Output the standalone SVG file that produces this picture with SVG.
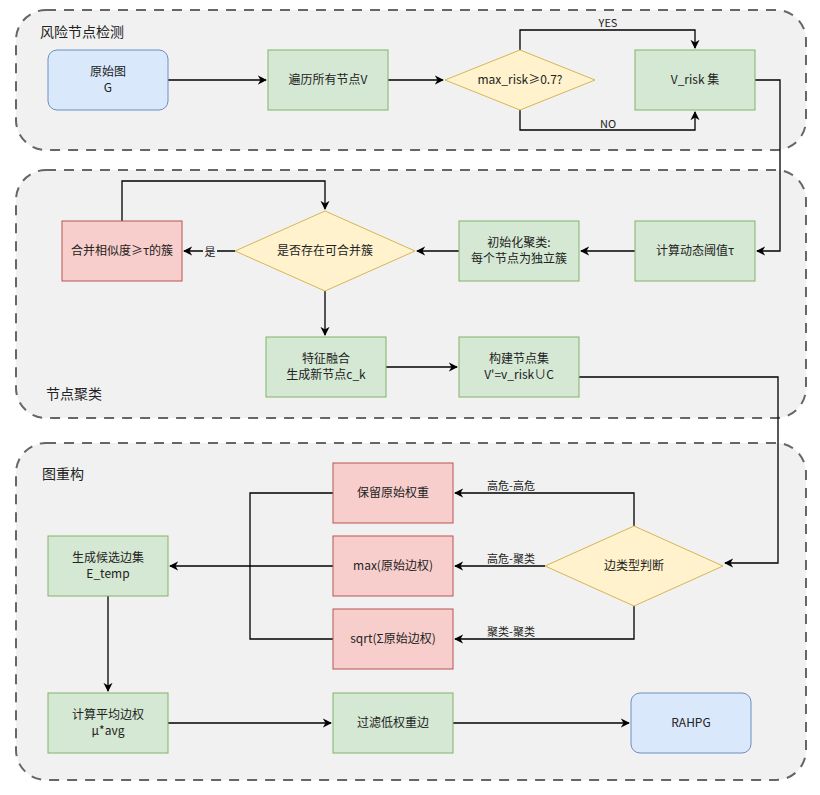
<svg xmlns="http://www.w3.org/2000/svg" width="820" height="795" viewBox="0 0 820 795">
<defs>
<marker id="a" viewBox="0 0 10 10" refX="9" refY="5" markerWidth="7" markerHeight="7" orient="auto"><path d="M0,0 L10,5 L0,10 L3,5 z" fill="#000"/></marker>
<style>
text{font-family:"Noto Sans CJK SC","Liberation Sans",sans-serif;font-size:12px;fill:#222;text-anchor:middle}
.c{fill:#f1f1f1;stroke:#666;stroke-width:2;stroke-dasharray:10 8}
.t{font-size:14px;text-anchor:start}
.g{fill:#d5e8d4;stroke:#82b366}
.b{fill:#dae8fc;stroke:#6c8ebf}
.r{fill:#f8cecc;stroke:#b85450}
.y{fill:#fff2cc;stroke:#d6b656}
.l{fill:none;stroke:#000;stroke-width:1.3}
.s{font-size:11px}
</style>
</defs>
<rect class="c" x="16" y="10" width="790" height="140" rx="30"/>
<rect class="c" x="16" y="170" width="790" height="248" rx="30"/>
<rect class="c" x="16" y="443" width="790" height="337" rx="30"/>
<text class="t" x="40" y="37">风险节点检测</text>
<text class="t" x="46" y="399">节点聚类</text>
<text class="t" x="42" y="479">图重构</text>
<g id="connectors">
<path class="l" d="M168,80 H266" marker-end="url(#a)"/>
<path class="l" d="M388,80 H443" marker-end="url(#a)"/>
<path class="l" d="M520,50 V30 H695 V48" marker-end="url(#a)"/>
<path class="l" d="M520,110 V130 H695 V112" marker-end="url(#a)"/>
<text class="s" x="608" y="27">YES</text>
<text class="s" x="608" y="128">NO</text>
<path class="l" d="M755,80 H780 V251 H757" marker-end="url(#a)"/>
<path class="l" d="M635,251 H581" marker-end="url(#a)"/>
<path class="l" d="M459,251 H417" marker-end="url(#a)"/>
<path class="l" d="M235,251 H184" marker-end="url(#a)"/>
<rect x="203" y="244" width="14" height="16" fill="#f1f1f1"/>
<text class="s" x="210" y="256">是</text>
<path class="l" d="M122,221 V181 H325 V209" marker-end="url(#a)"/>
<path class="l" d="M325,291 V335" marker-end="url(#a)"/>
<path class="l" d="M386,367 H457" marker-end="url(#a)"/>
<path class="l" d="M579,377 H778 V563 H725" marker-end="url(#a)"/>
<path class="l" d="M634,526 V493 H455" marker-end="url(#a)"/>
<path class="l" d="M545,566 H455" marker-end="url(#a)"/>
<path class="l" d="M634,606 V639 H455" marker-end="url(#a)"/>
<text class="s" x="511" y="490">高危-高危</text>
<text class="s" x="511" y="563">高危-聚类</text>
<text class="s" x="511" y="636">聚类-聚类</text>
<path class="l" d="M333,493 H250 V639 H333"/>
<path class="l" d="M333,566 H170" marker-end="url(#a)"/>
<path class="l" d="M108,596 V691" marker-end="url(#a)"/>
<path class="l" d="M168,723 H331" marker-end="url(#a)"/>
<path class="l" d="M453,723 H629" marker-end="url(#a)"/>
</g>
<g id="n1"><rect class="b" x="48" y="50" width="120" height="60" rx="9"/><text x="108" y="76">原始图</text><text x="108" y="92">G</text></g>
<g id="n2"><rect class="g" x="268" y="50" width="120" height="60"/><text x="328" y="84">遍历所有节点V</text></g>
<g id="n3"><path class="y" d="M520,50 L595,80 L520,110 L445,80 z"/><text x="520" y="84">max_risk≥0.7?</text></g>
<g id="n4"><rect class="g" x="635" y="50" width="120" height="60"/><text x="695" y="84">V_risk 集</text></g>
<g id="n5"><rect class="g" x="635" y="221" width="120" height="60"/><text x="695" y="255">计算动态阈值τ</text></g>
<g id="n6"><rect class="g" x="459" y="221" width="120" height="60"/><text x="519" y="247">初始化聚类:</text><text x="519" y="263">每个节点为独立簇</text></g>
<g id="n7"><path class="y" d="M325,211 L415,251 L325,291 L235,251 z"/><text x="325" y="255">是否存在可合并簇</text></g>
<g id="n8"><rect class="r" x="62" y="221" width="120" height="60"/><text x="122" y="255">合并相似度≥τ的簇</text></g>
<g id="n9"><rect class="g" x="266" y="337" width="120" height="60"/><text x="326" y="363">特征融合</text><text x="326" y="379">生成新节点c_k</text></g>
<g id="n10"><rect class="g" x="459" y="337" width="120" height="60"/><text x="519" y="363">构建节点集</text><text x="519" y="379">V'=v_risk∪C</text></g>
<g id="n11"><path class="y" d="M634,526 L723,566 L634,606 L545,566 z"/><text x="634" y="570">边类型判断</text></g>
<g id="n12"><rect class="r" x="333" y="463" width="120" height="60"/><text x="393" y="497">保留原始权重</text></g>
<g id="n13"><rect class="r" x="333" y="536" width="120" height="60"/><text x="393" y="570">max(原始边权)</text></g>
<g id="n14"><rect class="r" x="333" y="609" width="120" height="60"/><text x="393" y="643">sqrt(Σ原始边权)</text></g>
<g id="n15"><rect class="g" x="48" y="536" width="120" height="60"/><text x="108" y="562">生成候选边集</text><text x="108" y="578">E_temp</text></g>
<g id="n16"><rect class="g" x="48" y="693" width="120" height="60"/><text x="108" y="719">计算平均边权</text><text x="108" y="735">μ*avg</text></g>
<g id="n17"><rect class="g" x="333" y="693" width="120" height="60"/><text x="393" y="727">过滤低权重边</text></g>
<g id="n18"><rect class="b" x="631" y="693" width="120" height="60" rx="9"/><text x="691" y="727">RAHPG</text></g>
</svg>
